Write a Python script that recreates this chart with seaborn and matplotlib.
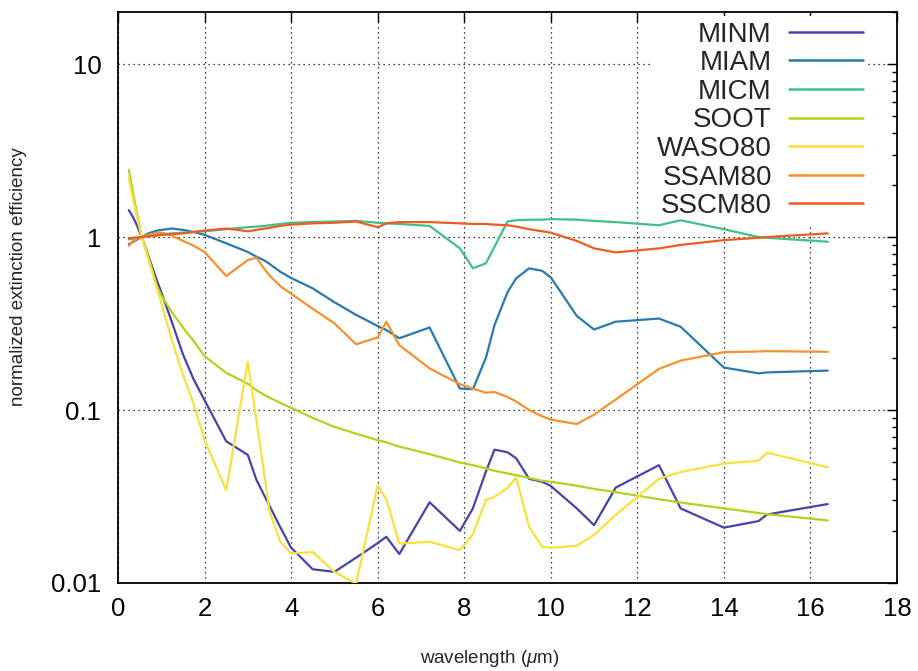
import numpy as np
import pandas as pd
import matplotlib
matplotlib.use("Agg")
import matplotlib.pyplot as plt
import seaborn as sns
from matplotlib.ticker import LogLocator, NullFormatter, FixedLocator, FixedFormatter

# ---------------- data ----------------
wavelength = [0.25, 0.35, 0.45, 0.55, 0.7, 0.9, 1.0, 1.25, 1.5, 1.75, 2.0, 2.5, 3.0, 3.2,
              3.39, 3.5, 3.75, 4.0, 4.5, 5.0, 5.5, 6.0, 6.2, 6.5, 7.2, 7.9, 8.2, 8.5, 8.7,
              9.0, 9.2, 9.5, 9.8, 10.0, 10.6, 11.0, 11.5, 12.5, 13.0, 14.0, 14.8, 15.0, 16.4]

minm = [1.43, 1.30, 1.15, 1.0, 0.78, 0.56, 0.48, 0.32, 0.21, 0.15, 0.114, 0.066, 0.055, 0.0394,
        0.0317, 0.028, 0.021, 0.016, 0.012, 0.0116, 0.0140, 0.017, 0.0185, 0.0147, 0.0293, 0.020,
        0.027, 0.044, 0.059, 0.057, 0.0526, 0.040, 0.0385, 0.0364, 0.027, 0.0216, 0.0356, 0.048,
        0.027, 0.0209, 0.0228, 0.0249, 0.0286]
miam = [0.91, 0.94, 0.97, 1.0, 1.05, 1.09, 1.10, 1.12, 1.10, 1.07, 1.03, 0.92, 0.82, 0.77,
        0.73, 0.70, 0.63, 0.58, 0.505, 0.42, 0.355, 0.306, 0.29, 0.26, 0.30, 0.133,
        0.132, 0.20, 0.31, 0.48, 0.577, 0.659, 0.638, 0.585, 0.35, 0.292, 0.324, 0.338,
        0.303, 0.176, 0.163, 0.165, 0.169]
micm = [0.97, 0.98, 0.99, 1.0, 1.01, 1.03, 1.04, 1.05, 1.06, 1.07, 1.08, 1.11, 1.14, 1.15,
        1.16, 1.17, 1.19, 1.21, 1.22, 1.23, 1.24, 1.21, 1.20, 1.19, 1.16, 0.86,
        0.66, 0.705, 0.88, 1.23, 1.25, 1.26, 1.26, 1.27, 1.26, 1.24, 1.22, 1.17,
        1.25, 1.11, 1.0, 0.99, 0.94]
soot = [2.45, 1.79, 1.33, 1.0, 0.77, 0.52, 0.46, 0.367, 0.30, 0.25, 0.205, 0.164, 0.142, 0.13,
        0.122, 0.118, 0.11, 0.103, 0.09, 0.08, 0.073, 0.067, 0.065, 0.0614, 0.0556, 0.0497,
        0.048, 0.046, 0.0445, 0.043, 0.042, 0.0405, 0.039, 0.0385, 0.0365, 0.035, 0.0335, 0.0305,
        0.0292, 0.027, 0.0254, 0.025, 0.023]
waso80 = [2.2, 1.65, 1.27, 1.0, 0.746, 0.507, 0.417, 0.25, 0.16, 0.108, 0.067, 0.0345, 0.19, 0.087,
          0.041, 0.026, 0.0173, 0.0148, 0.0151, 0.0116, 0.0099, 0.0367, 0.0305, 0.0169, 0.0173, 0.0155,
          0.0191, 0.0302, 0.0315, 0.0354, 0.0408, 0.0211, 0.0162, 0.016, 0.0164, 0.019, 0.0247, 0.04,
          0.0438, 0.049, 0.051, 0.0567, 0.0467]
ssam80 = [0.89, 0.95, 0.98, 1.0, 1.03, 1.06, 1.06, 1.02, 0.95, 0.89, 0.82, 0.595, 0.736, 0.76,
          0.65, 0.60, 0.52, 0.47, 0.385, 0.317, 0.24, 0.263, 0.324, 0.237, 0.174, 0.141,
          0.133, 0.126, 0.127, 0.119, 0.112, 0.100, 0.092, 0.088, 0.083, 0.094, 0.115, 0.173,
          0.193, 0.216, 0.218, 0.219, 0.217]
sscm80 = [0.98, 0.99, 0.995, 1.0, 1.01, 1.02, 1.03, 1.04, 1.05, 1.07, 1.09, 1.12, 1.08, 1.10,
          1.12, 1.13, 1.16, 1.18, 1.20, 1.21, 1.23, 1.14, 1.20, 1.22, 1.22, 1.20,
          1.19, 1.19, 1.18, 1.17, 1.15, 1.11, 1.08, 1.06, 0.95, 0.86, 0.815, 0.86,
          0.90, 0.96, 0.99, 1.0, 1.05]

series_names = ["MINM", "MIAM", "MICM", "SOOT", "WASO80", "SSAM80", "SSCM80"]
series_values = [minm, miam, micm, soot, waso80, ssam80, sscm80]
series_colors = ["#4444aa", "#2779b0", "#3dc285", "#b2d21e", "#f9e03c", "#f8902e", "#f05a22"]

x_ticks = [0, 2, 4, 6, 8, 10, 12, 14, 16, 18]
y_ticks = [0.01, 0.1, 1, 10]
y_tick_labels = ["0.01", "0.1", "1", "10"]

df = pd.concat(
    [pd.DataFrame({"wavelength": wavelength, "value": vals, "series": name})
     for name, vals in zip(series_names, series_values)],
    ignore_index=True)

# ---------------- style ----------------
sns.set_style("white")
plt.rcParams["font.family"] = ["Liberation Sans", "DejaVu Sans"]
plt.rcParams["mathtext.fontset"] = "custom"
plt.rcParams["mathtext.it"] = "Liberation Sans:italic"
plt.rcParams["mathtext.rm"] = "Liberation Sans"

fig = plt.figure(figsize=(9.18, 6.71), dpi=100)
ax = fig.add_axes([118 / 918, 1 - 583 / 671, 779 / 918, 571 / 671])

sns.lineplot(data=df, x="wavelength", y="value", hue="series", hue_order=series_names,
             palette=dict(zip(series_names, series_colors)), estimator=None, sort=False,
             linewidth=1.6, ax=ax, zorder=3)

ax.set_yscale("log")
ax.set_xlim(0, 18)
ax.set_ylim(0.01, 20)

ax.xaxis.set_major_locator(FixedLocator(x_ticks))
ax.yaxis.set_major_locator(FixedLocator(y_ticks))
ax.yaxis.set_major_formatter(FixedFormatter(y_tick_labels))
ax.yaxis.set_minor_locator(LogLocator(base=10, subs=np.arange(2, 10)))
ax.yaxis.set_minor_formatter(NullFormatter())

ax.grid(True, which="major", color="black", linestyle=(0, (1, 3)), linewidth=0.9)
ax.set_axisbelow(True)

for sp in ax.spines.values():
    sp.set_color("black")
    sp.set_linewidth(1.3)

ax.tick_params(which="both", direction="in", top=True, right=True, colors="black")
ax.tick_params(which="major", length=7, width=1.0, labelsize=18.5)
ax.tick_params(which="minor", length=3.5, width=1.0)
ax.tick_params(axis="x", pad=10)
ax.tick_params(axis="y", pad=12)

ax.set_xlabel(r"wavelength ($\mu$m)", fontsize=13.5)
ax.set_ylabel("normalized extinction efficiency", fontsize=13.5)
ax.xaxis.set_label_coords(0.4775, -0.114)
ax.yaxis.set_label_coords(-0.117, 0.536)

handles, labels = ax.get_legend_handles_labels()
leg = ax.legend(handles, labels, loc="upper right", bbox_to_anchor=(0.963, 0.993),
                markerfirst=False, fontsize=20, labelspacing=0.094, handlelength=2.66,
                handletextpad=0.61, borderpad=0.2, borderaxespad=0.0, frameon=True,
                fancybox=False, framealpha=1.0, facecolor="white", edgecolor="none")
for line in leg.get_lines():
    line.set_linewidth(1.8)
leg.set_zorder(2.5)

fig.savefig("out.png", dpi=100)
